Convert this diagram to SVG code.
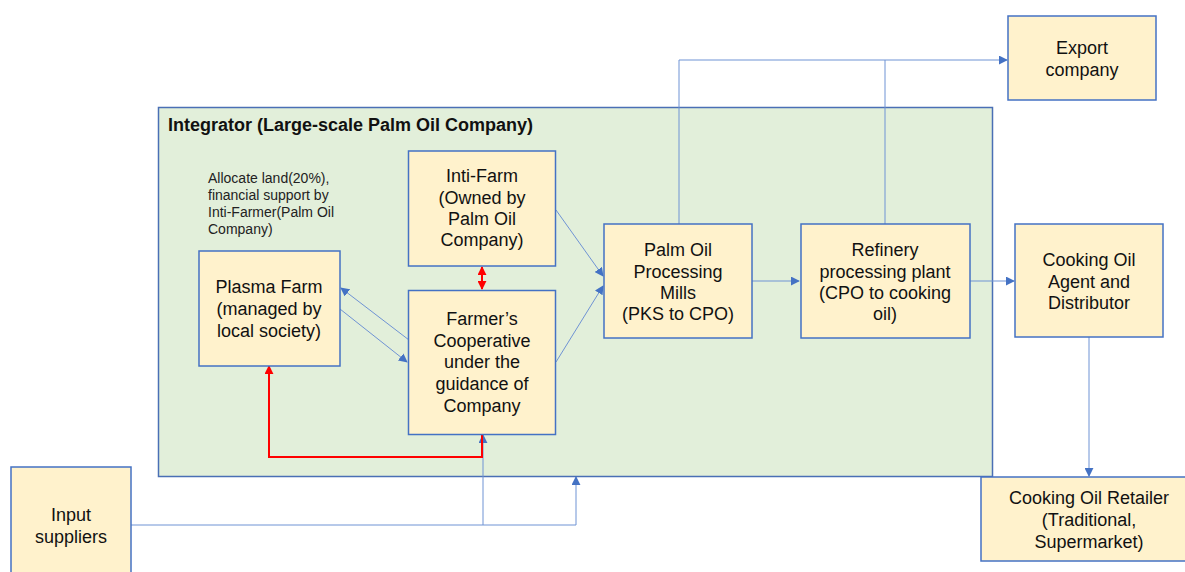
<svg xmlns="http://www.w3.org/2000/svg" width="1185" height="572" viewBox="0 0 1185 572">
  <style>
    .box { fill: #FFF2CC; stroke: #4472C4; stroke-width: 1.5; }
    .frame { fill: #E2EFDA; stroke: #4A6FB5; stroke-width: 1.5; }
    .lbl { font-family: "Liberation Sans", Arial, sans-serif; font-size: 18px; fill: #111; text-anchor: middle; }
    .note { font-family: "Liberation Sans", Arial, sans-serif; font-size: 14px; fill: #222; }
    .title { font-family: "Liberation Sans", Arial, sans-serif; font-size: 18px; font-weight: bold; fill: #111; }
    .flow { fill: none; stroke: #6F93D4; stroke-width: 1; }
    .red { fill: none; stroke: #FF0000; stroke-width: 2; }
  </style>
  <defs>
    <marker id="ab" viewBox="0 0 10 10" refX="9" refY="5" markerWidth="9" markerHeight="9" markerUnits="userSpaceOnUse" orient="auto">
      <path d="M0,0 L10,5 L0,10 z" fill="#4472C4"/>
    </marker>
    <marker id="ar" viewBox="0 0 10 10" refX="9" refY="5" markerWidth="9" markerHeight="9" markerUnits="userSpaceOnUse" orient="auto-start-reverse">
      <path d="M0,0 L10,5 L0,10 z" fill="#FF0000"/>
    </marker>
  </defs>

  <rect width="1185" height="572" fill="#FFFFFF"/>

  <!-- integrator frame -->
  <g id="integrator">
    <rect class="frame" x="158.5" y="107.5" width="834" height="369"/>
    <text class="title" x="168" y="131">Integrator (Large-scale Palm Oil Company)</text>
  </g>

  <g id="note-allocate">
    <text class="note" x="208" y="183">Allocate land(20%),</text>
    <text class="note" x="208" y="200">financial support by</text>
    <text class="note" x="208" y="217">Inti-Farmer(Palm Oil</text>
    <text class="note" x="208" y="234">Company)</text>
  </g>

  <!-- connectors -->
  <g id="connectors">
    <line class="flow" x1="556" y1="210" x2="603" y2="276" marker-end="url(#ab)"/>
    <line class="flow" x1="556" y1="362" x2="603" y2="286" marker-end="url(#ab)"/>
    <line class="flow" x1="409" y1="340" x2="341" y2="288" marker-end="url(#ab)"/>
    <line class="flow" x1="340" y1="309" x2="407" y2="362" marker-end="url(#ab)"/>
    <polyline class="flow" points="131,525 483,525 483,435" marker-end="url(#ab)"/>
    <polyline class="flow" points="483,525 576,525 576,477" marker-end="url(#ab)"/>
    <polyline class="flow" points="679,224 679,60 1007,60" stroke="#7E98C8" marker-end="url(#ab)"/>
    <line class="flow" x1="885" y1="224" x2="885" y2="60" stroke="#7E98C8"/>
    <line class="flow" x1="752" y1="281" x2="799" y2="281" marker-end="url(#ab)"/>
    <line class="flow" x1="970" y1="281" x2="1014" y2="281" marker-end="url(#ab)"/>
    <line class="flow" x1="1089" y1="337" x2="1089" y2="476" stroke="#8497B0" stroke-width="1.5" marker-end="url(#ab)"/>
    <line class="red" x1="482" y1="267" x2="482" y2="289" stroke-width="1" marker-start="url(#ar)" marker-end="url(#ar)"/>
    <polyline class="red" points="482,434 482,457 269,457 269,366" marker-end="url(#ar)"/>
  </g>

  <g id="inti-farm">
    <rect class="box" x="408.5" y="151" width="147" height="115"/>
    <text class="lbl" x="482" y="182">Inti-Farm</text>
    <text class="lbl" x="482" y="204">(Owned by</text>
    <text class="lbl" x="482" y="225">Palm Oil</text>
    <text class="lbl" x="482" y="246">Company)</text>
  </g>

  <g id="plasma-farm">
    <rect class="box" x="199" y="251" width="141" height="115"/>
    <text class="lbl" x="269" y="293">Plasma Farm</text>
    <text class="lbl" x="269" y="315">(managed by</text>
    <text class="lbl" x="269" y="337">local society)</text>
  </g>

  <g id="cooperative">
    <rect class="box" x="408.5" y="290.5" width="147" height="144"/>
    <text class="lbl" x="482" y="325">Farmer’s</text>
    <text class="lbl" x="482" y="347">Cooperative</text>
    <text class="lbl" x="482" y="368">under the</text>
    <text class="lbl" x="482" y="390">guidance of</text>
    <text class="lbl" x="482" y="412">Company</text>
  </g>

  <g id="mills">
    <rect class="box" x="604" y="224" width="148" height="114"/>
    <text class="lbl" x="678" y="256">Palm Oil</text>
    <text class="lbl" x="678" y="278">Processing</text>
    <text class="lbl" x="678" y="299">Mills</text>
    <text class="lbl" x="678" y="320">(PKS to CPO)</text>
  </g>

  <g id="refinery">
    <rect class="box" x="801" y="224" width="169" height="114"/>
    <text class="lbl" x="885" y="256">Refinery</text>
    <text class="lbl" x="885" y="278">processing plant</text>
    <text class="lbl" x="885" y="299">(CPO to cooking</text>
    <text class="lbl" x="885" y="320">oil)</text>
  </g>

  <g id="agent">
    <rect class="box" x="1015" y="224" width="148" height="113"/>
    <text class="lbl" x="1089" y="266">Cooking Oil</text>
    <text class="lbl" x="1089" y="288">Agent and</text>
    <text class="lbl" x="1089" y="309">Distributor</text>
  </g>

  <g id="export">
    <rect class="box" x="1008" y="16" width="148" height="84"/>
    <text class="lbl" x="1082" y="54">Export</text>
    <text class="lbl" x="1082" y="76">company</text>
  </g>

  <g id="retailer">
    <rect class="box" x="981" y="477" width="210" height="84"/>
    <text class="lbl" x="1089" y="504">Cooking Oil Retailer</text>
    <text class="lbl" x="1089" y="526">(Traditional,</text>
    <text class="lbl" x="1089" y="548">Supermarket)</text>
  </g>

  <g id="input-suppliers">
    <rect class="box" x="11" y="467" width="120" height="115"/>
    <text class="lbl" x="71" y="521">Input</text>
    <text class="lbl" x="71" y="543">suppliers</text>
  </g>
</svg>
